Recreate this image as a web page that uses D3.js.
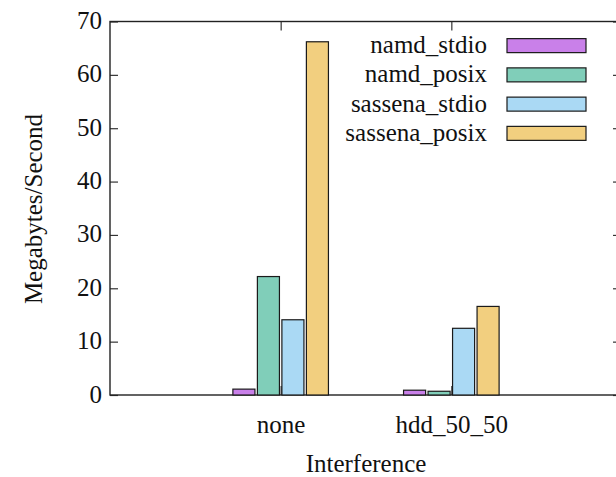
<!DOCTYPE html>
<html>
<head>
<meta charset="utf-8">
<script src="https://cdn.jsdelivr.net/npm/d3@7"></script>
<style>
  body { margin: 0; background: #fff; }
</style>
</head>
<body>
<div id="chart"></div>
<script>
// categories and series
const categories = ['none', 'hdd_50_50'];
const series = ['namd_stdio', 'namd_posix', 'sassena_stdio', 'sassena_posix'];
const colors = ['#c980e9', '#80ceb9', '#aad9f4', '#f2cf7f'];

// values, one array per series (same order as categories)
const namdStdio = [1.1, 0.9];
const namdPosix = [22.2, 0.7];
const sassenaStdio = [14.1, 12.5];
const sassenaPosix = [66.2, 16.6];

const yTicks = [0, 10, 20, 30, 40, 50, 60, 70];

const w = 616;
const h = 477;
const plotLeft = 110, plotRight = 622, plotTop = 21.5, plotBottom = 395;
const serif = 'Liberation Serif';

const svg = d3.select('#chart')
    .append('svg')
    .attr('width', w)
    .attr('height', h);

// category index -> pixel (range -1..2 like the gnuplot histogram)
const xScale = d3.scaleLinear().domain([-1, 2]).range([plotLeft, plotRight]);
const yScale = d3.scaleLinear().domain([0, 70]).range([plotBottom, plotTop]);

// offset of each series inside a cluster
const inner = d3.scaleBand()
    .domain(series)
    .range([-49, 49])
    .paddingInner(0.1)
    .paddingOuter(0.05);

// left axis with inward ticks
const yAxis = svg.append('g')
    .attr('transform', 'translate(' + plotLeft + ',0)')
    .call(d3.axisLeft(yScale).tickValues(yTicks).tickSize(-8).tickSizeOuter(0).tickPadding(8));
yAxis.select('.domain').remove();
yAxis.selectAll('text').attr('dy', '0.28em');

// right mirror ticks
const yRight = svg.append('g')
    .attr('transform', 'translate(' + plotRight + ',0)')
    .call(d3.axisRight(yScale).tickValues(yTicks).tickSize(-9).tickSizeOuter(0).tickFormat(''));
yRight.select('.domain').remove();

// top mirror ticks
const xTop = svg.append('g')
    .attr('transform', 'translate(0,' + plotTop + ')')
    .call(d3.axisTop(xScale).tickValues([0, 1]).tickSize(-9).tickSizeOuter(0).tickFormat(''));
xTop.select('.domain').remove();

// bottom axis
const xAxis = svg.append('g')
    .attr('transform', 'translate(0,' + plotBottom + ')')
    .call(d3.axisBottom(xScale).tickValues([0, 1]).tickSize(-9).tickSizeOuter(0)
        .tickFormat((d) => categories[d]));
xAxis.select('.domain').remove();
xAxis.selectAll('text')
    .attr('dy', null)
    .attr('y', 38);

// frame
svg.append('rect')
    .attr('x', plotLeft)
    .attr('y', plotTop)
    .attr('width', plotRight - plotLeft)
    .attr('height', plotBottom - plotTop)
    .attr('fill', 'none')
    .attr('stroke', '#222')
    .attr('stroke-width', 1.4);

svg.selectAll('.tick line').attr('stroke', '#333').attr('stroke-width', 1.2);

// bars
const values = [namdStdio, namdPosix, sassenaStdio, sassenaPosix];
const rows = [];
series.forEach((s, i) => {
  categories.forEach((c, j) => {
    rows.push({series: s, idx: j, value: values[i][j], color: colors[i]});
  });
});

svg.append('g')
    .selectAll('rect')
    .data(rows)
    .enter()
    .append('rect')
    .attr('x', (d) => xScale(d.idx) + inner(d.series))
    .attr('y', (d) => yScale(d.value))
    .attr('width', inner.bandwidth())
    .attr('height', (d) => yScale(0) - yScale(d.value))
    .attr('fill', (d) => d.color)
    .attr('stroke', '#1a1a1a')
    .attr('stroke-width', 1.2);

// legend
const legendY = d3.scaleBand().domain(series).range([31, 148]);
const legend = svg.append('g');
legend.selectAll('rect')
    .data(series)
    .enter()
    .append('rect')
    .attr('x', 507)
    .attr('y', (d) => legendY(d) + legendY.bandwidth() / 2 - 7)
    .attr('width', 79)
    .attr('height', 14)
    .attr('fill', (d, i) => colors[i])
    .attr('stroke', '#1a1a1a')
    .attr('stroke-width', 1.2);
legend.selectAll('text')
    .data(series)
    .enter()
    .append('text')
    .attr('x', 487)
    .attr('y', (d) => legendY(d) + legendY.bandwidth() / 2)
    .attr('dy', '0.3em')
    .attr('text-anchor', 'end')
    .text((d) => d);

// axis titles
svg.append('text')
    .attr('x', 366)
    .attr('y', 472)
    .attr('text-anchor', 'middle')
    .text('Interference');

svg.append('text')
    .attr('transform', 'translate(42,209) rotate(-90)')
    .attr('text-anchor', 'middle')
    .text('Megabytes/Second');

// one font for every text
svg.selectAll('text')
    .attr('font-family', serif)
    .attr('font-size', 25)
    .attr('fill', '#111');
</script>
</body>
</html>
